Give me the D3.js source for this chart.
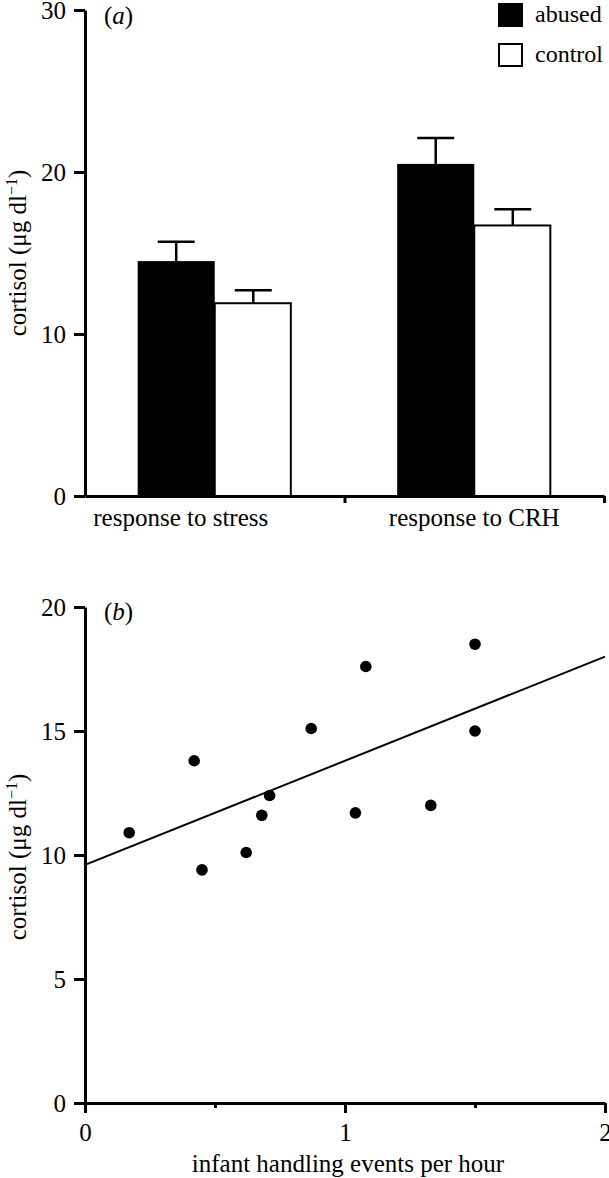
<!DOCTYPE html>
<html><head><meta charset="utf-8">
<script src="https://cdn.jsdelivr.net/npm/d3@7"></script>
<style>
body{margin:0;background:#fff}
text{font-family:"Liberation Serif","Times New Roman",serif;fill:#000}
</style>
</head><body><svg id="c" width="609" height="1178"></svg>
<script>
// ---- data: panel (a)
const categories = ["response to stress", "response to CRH"];
const groups = ["abused", "control"];
const abusedMean = [14.5, 20.5];
const abusedUpper = [15.7, 22.1];
const controlMean = [11.9, 16.7];
const controlUpper = [12.7, 17.7];
const yTicksA = [0, 10, 20, 30];
// ---- data: panel (b)
const handlingX = [0.17, 0.42, 0.45, 0.62, 0.68, 0.71, 0.87, 1.04, 1.08, 1.33, 1.50, 1.50];
const cortisolY = [10.9, 13.8, 9.4, 10.1, 11.6, 12.4, 15.1, 11.7, 17.6, 12.0, 18.5, 15.0];
const fitX = [0, 2];
const fitY = [9.6, 18.0];
const yTicksB = [0, 5, 10, 15, 20];
const xTicksB = [0, 1, 2];
const xMinorB = [0.5, 1.5];

const svg = d3.select("#c");
const FS = 25;

function styleAxis(g, w) {
  g.select(".domain").attr("stroke", "#000").attr("stroke-width", w);
  g.selectAll(".tick line").attr("stroke", "#000").attr("stroke-width", w);
  g.selectAll(".tick text").attr("font-size", FS).attr("font-family", "Liberation Serif, serif").attr("fill", "#000");
}

// ================= Panel (a)
const ya = d3.scaleLinear().domain([0, 30]).range([496, 10]);
const x0 = d3.scaleBand().domain(categories).range([85, 604]).paddingInner(0).paddingOuter(0);
const x1 = d3.scaleBand().domain(groups).range([x0.bandwidth() * 0.203, x0.bandwidth() * 0.797]);

const barData = [];
categories.forEach((c, i) => {
  barData.push({cat: c, grp: "abused", v: abusedMean[i], up: abusedUpper[i]});
  barData.push({cat: c, grp: "control", v: controlMean[i], up: controlUpper[i]});
});

const pa = svg.append("g");
const capW = x1.bandwidth() * 0.48;
pa.selectAll(".err").data(barData).join("g").each(function(d) {
  const cx = x0(d.cat) + x1(d.grp) + x1.bandwidth() / 2;
  const g = d3.select(this);
  g.append("line").attr("x1", cx).attr("x2", cx).attr("y1", ya(d.v)).attr("y2", ya(d.up))
    .attr("stroke", "#000").attr("stroke-width", 2.5);
  g.append("line").attr("x1", cx - capW / 2).attr("x2", cx + capW / 2).attr("y1", ya(d.up)).attr("y2", ya(d.up))
    .attr("stroke", "#000").attr("stroke-width", 2.5);
});
pa.selectAll(".bar").data(barData).join("rect")
  .attr("x", d => x0(d.cat) + x1(d.grp))
  .attr("y", d => ya(d.v))
  .attr("width", d => x1.bandwidth() - (d.grp === "control" ? 1 : 0))
  .attr("height", d => ya(0) - ya(d.v))
  .attr("fill", d => d.grp === "abused" ? "#000" : "#fff")
  .attr("stroke", "#000")
  .attr("stroke-width", d => d.grp === "abused" ? 0 : 2);

// y axis
const gya = pa.append("g").attr("transform", "translate(85,0)")
  .call(d3.axisLeft(ya).tickValues(yTicksA).tickSize(11).tickSizeOuter(0).tickPadding(8).tickFormat(d3.format("d")));
styleAxis(gya, 3);
gya.selectAll(".tick text").attr("dy", "0.34em");

// x axis (baseline with ticks at category boundaries)
const xa = d3.scaleLinear().domain([0, categories.length]).range([85, 604]);
const gxa = pa.append("g").attr("transform", "translate(0,496)")
  .call(d3.axisBottom(xa).tickValues([1, 2]).tickSize(7).tickSizeOuter(0).tickFormat(""));
styleAxis(gxa, 3);

// category labels
const labelShift = [-34, 0];
pa.selectAll(".cat").data(categories).join("text")
  .attr("x", (d, i) => x0(d) + x0.bandwidth() / 2 + labelShift[i])
  .attr("y", 526).attr("text-anchor", "middle").attr("font-size", FS).text(d => d);

// y title
pa.append("text").attr("transform", "translate(26,253) rotate(-90)").attr("text-anchor", "middle")
  .attr("font-size", FS)
  .html('cortisol (\u03BCg dl<tspan dy="-9" font-size="16">\u22121</tspan><tspan dy="9">)</tspan>');

// panel label
pa.append("text").attr("x", 104).attr("y", 24).attr("font-size", FS)
  .html('(<tspan font-style="italic">a</tspan>)');

// legend
const legY = [3, 43];
const leg = pa.selectAll(".leg").data(groups).join("g");
leg.append("rect").attr("x", d => d === "abused" ? 498 : 499).attr("y", (d, i) => legY[i] + (i ? 1 : 0))
  .attr("width", (d, i) => i ? 23 : 25).attr("height", (d, i) => i ? 22 : 24)
  .attr("fill", d => d === "abused" ? "#000" : "#fff").attr("stroke", "#000").attr("stroke-width", (d, i) => i ? 2 : 0);
leg.append("text").attr("x", 535).attr("y", (d, i) => legY[i] + 19).attr("font-size", 24).text(d => d);

// ================= Panel (b)
const xb = d3.scaleLinear().domain([0, 2]).range([85, 605]);
const yb = d3.scaleLinear().domain([0, 20]).range([1103, 607]);
const pb = svg.append("g");

const gyb = pb.append("g").attr("transform", "translate(85,0)")
  .call(d3.axisLeft(yb).tickValues(yTicksB).tickSize(11).tickSizeOuter(0).tickPadding(8).tickFormat(d3.format("d")));
styleAxis(gyb, 3);
gyb.selectAll(".tick text").attr("dy", "0.34em");

const gxb = pb.append("g").attr("transform", "translate(0,1103)")
  .call(d3.axisBottom(xb).tickValues(xTicksB).tickSize(10).tickSizeOuter(0).tickPadding(10).tickFormat(d3.format("d")));
styleAxis(gxb, 3);
const gxbm = pb.append("g").attr("transform", "translate(0,1103)")
  .call(d3.axisBottom(xb).tickValues(xMinorB).tickSize(5).tickSizeOuter(0).tickFormat(""));
styleAxis(gxbm, 3);
gxbm.select(".domain").remove();

// regression line
pb.append("line").attr("x1", xb(fitX[0])).attr("y1", yb(fitY[0])).attr("x2", xb(fitX[1])).attr("y2", yb(fitY[1]))
  .attr("stroke", "#000").attr("stroke-width", 2);

// points
pb.selectAll(".pt").data(handlingX.map((x, i) => [x, cortisolY[i]])).join("circle")
  .attr("cx", d => xb(d[0])).attr("cy", d => yb(d[1])).attr("r", 5.8).attr("fill", "#000");

// titles
pb.append("text").attr("x", 348).attr("y", 1172).attr("text-anchor", "middle").attr("font-size", FS)
  .text("infant handling events per hour");
pb.append("text").attr("transform", "translate(26,857) rotate(-90)").attr("text-anchor", "middle")
  .attr("font-size", FS)
  .html('cortisol (\u03BCg dl<tspan dy="-9" font-size="16">\u22121</tspan><tspan dy="9">)</tspan>');
pb.append("text").attr("x", 104).attr("y", 620).attr("font-size", FS)
  .html('(<tspan font-style="italic">b</tspan>)');
</script>
</body></html>
